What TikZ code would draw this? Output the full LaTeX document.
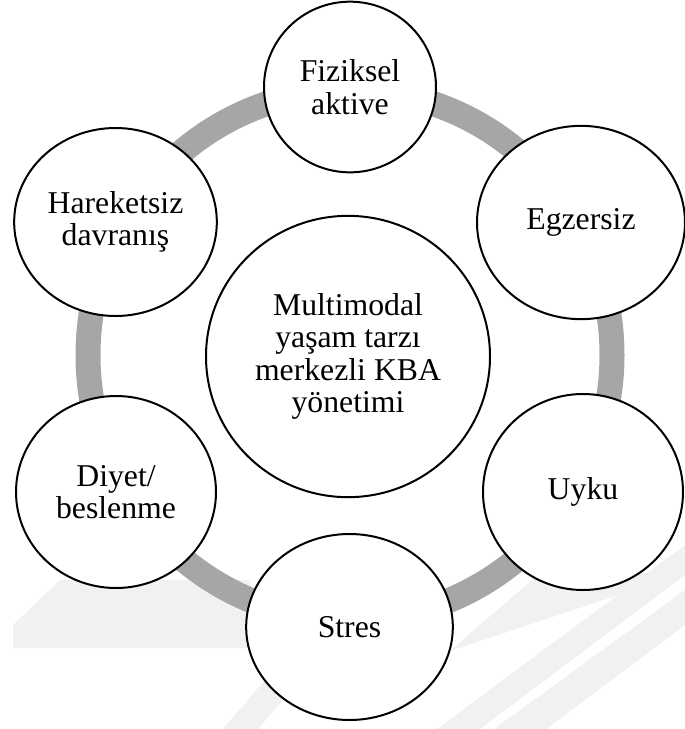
\documentclass[tikz,border=0pt]{standalone}
\usepackage{fontspec}
\setmainfont{Liberation Serif}
\usetikzlibrary{shapes.geometric}
\definecolor{ringgray}{RGB}{166,166,166}
\definecolor{wmgray}{RGB}{241,241,241}
\tikzset{
  bubble/.style={draw=black, line width=1.5pt, fill=white, ellipse, inner sep=0pt,
    align=center, font=\fontsize{23.8}{24.3}\selectfont},
  ringstyle/.style={draw=ringgray, line width=18.75pt},
  wm/.style={fill=wmgray, draw=none}
}
\begin{document}
\begin{tikzpicture}[x=0.75pt,y=-0.75pt]
\useasboundingbox (0,0) rectangle (685,729);
% faint watermark
\fill[wm] (13,648) -- (13,625) -- (60,580) -- (250,580) -- (250,648) -- cycle;
\fill[wm] (223,729) -- (258,729) -- (300,680) -- (265,680) -- cycle;
\fill[wm] (437,729) -- (480,729) -- (685,575) -- (685,545) -- cycle;
\fill[wm] (494,729) -- (546,729) -- (685,625) -- (685,590) -- cycle;
\fill[wm] (450,651) -- (685,573) -- (540,573) -- cycle;
% ring
\draw[ringstyle] (350,355) ellipse [x radius=262, y radius=265];
% nodes
\node[bubble, minimum width=213pt, minimum height=211pt] (core) at (348,356.5) {Multimodal\\yaşam tarzı\\merkezli KBA\\yönetimi};
\node[bubble, minimum width=129pt, minimum height=128pt] (fiz) at (350,87) {Fiziksel\\aktive};
\node[bubble, minimum width=156pt, minimum height=145pt] (egz) at (581,222.5) {Egzersiz};
\node[bubble, minimum width=150pt, minimum height=147pt] (uyk) at (583,492) {Uyku};
\node[bubble, minimum width=155pt, minimum height=139.5pt] (str) at (349.5,627) {Stres};
\node[bubble, minimum width=150pt, minimum height=144pt] (diy) at (116,492) {Diyet/\\beslenme};
\node[bubble, minimum width=152pt, minimum height=141pt] (har) at (115.5,222) {Hareketsiz\\davranış};
\end{tikzpicture}
\end{document}
